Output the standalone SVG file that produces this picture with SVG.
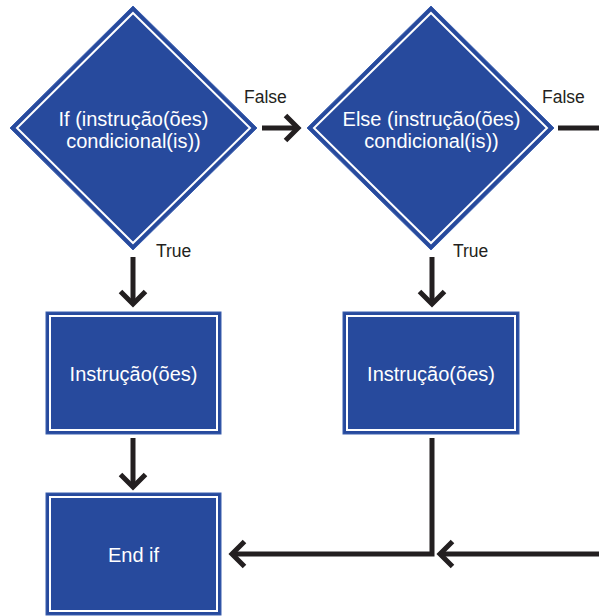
<svg xmlns="http://www.w3.org/2000/svg" width="599" height="616" viewBox="0 0 599 616">
<style>
.shape{fill:#274a9d;stroke:#3a5eae;stroke-width:1}
.inner{fill:none;stroke:#ffffff;stroke-width:2}
.lbl{font-family:"Liberation Sans",Arial,sans-serif;font-size:20px;fill:#ffffff;text-anchor:middle}
.edge{font-family:"Liberation Sans",Arial,sans-serif;font-size:17.5px;fill:#231f20}
.conn{fill:none;stroke:#231f20;stroke-width:5}
</style>
<defs>
<marker id="chev" markerUnits="userSpaceOnUse" orient="auto" viewBox="-20 -20 26 40" refX="0" refY="0" markerWidth="26" markerHeight="40" overflow="visible">
<path d="M-12.5,-12.5 L0,0 L-12.5,12.5" fill="none" stroke="#231f20" stroke-width="5" stroke-miterlimit="10"/>
</marker>
</defs>
<rect width="599" height="616" fill="#ffffff"/>
<g id="if">
<polygon class="shape" points="133,6 257,128 133,250 10,128"/>
<polygon class="inner" points="133,13 250,128 133,243 17,128"/>
<text class="lbl" x="133.5" y="126">If (instrução(ões)</text>
<text class="lbl" x="133.5" y="148">condicional(is))</text>
</g>
<g id="else">
<polygon class="shape" points="431,6 554,128 431,250 307,128"/>
<polygon class="inner" points="431,13 547,128 431,243 314,128"/>
<text class="lbl" x="431.5" y="126">Else (instrução(ões)</text>
<text class="lbl" x="431.5" y="148">condicional(is))</text>
</g>
<g id="instr1">
<rect class="shape" x="46" y="312" width="175" height="122"/>
<rect class="inner" x="50" y="316" width="167" height="114"/>
<text class="lbl" x="133.5" y="381">Instrução(ões)</text>
</g>
<g id="instr2">
<rect class="shape" x="343" y="312" width="176" height="122"/>
<rect class="inner" x="347" y="316" width="168" height="114"/>
<text class="lbl" x="431" y="381">Instrução(ões)</text>
</g>
<g id="endif">
<rect class="shape" x="46" y="493" width="175" height="122"/>
<rect class="inner" x="50" y="497" width="167" height="114"/>
<text class="lbl" x="133.5" y="562">End if</text>
</g>
<g id="connectors">
<path class="conn" d="M262,128 L298,128" marker-end="url(#chev)"/>
<path class="conn" d="M558,128 L599,128"/>
<path class="conn" d="M133,257 L133,304" marker-end="url(#chev)"/>
<path class="conn" d="M432,257 L432,304" marker-end="url(#chev)"/>
<path class="conn" d="M133,438 L133,487" marker-end="url(#chev)"/>
<path class="conn" d="M432,438 L432,554 L232,554" stroke-linejoin="miter" marker-end="url(#chev)"/>
<path class="conn" d="M599,554 L440,554" marker-end="url(#chev)"/>
<text class="edge" x="244" y="103">False</text>
<text class="edge" x="542" y="103">False</text>
<text class="edge" x="156" y="257">True</text>
<text class="edge" x="453" y="257">True</text>
</g>
</svg>
